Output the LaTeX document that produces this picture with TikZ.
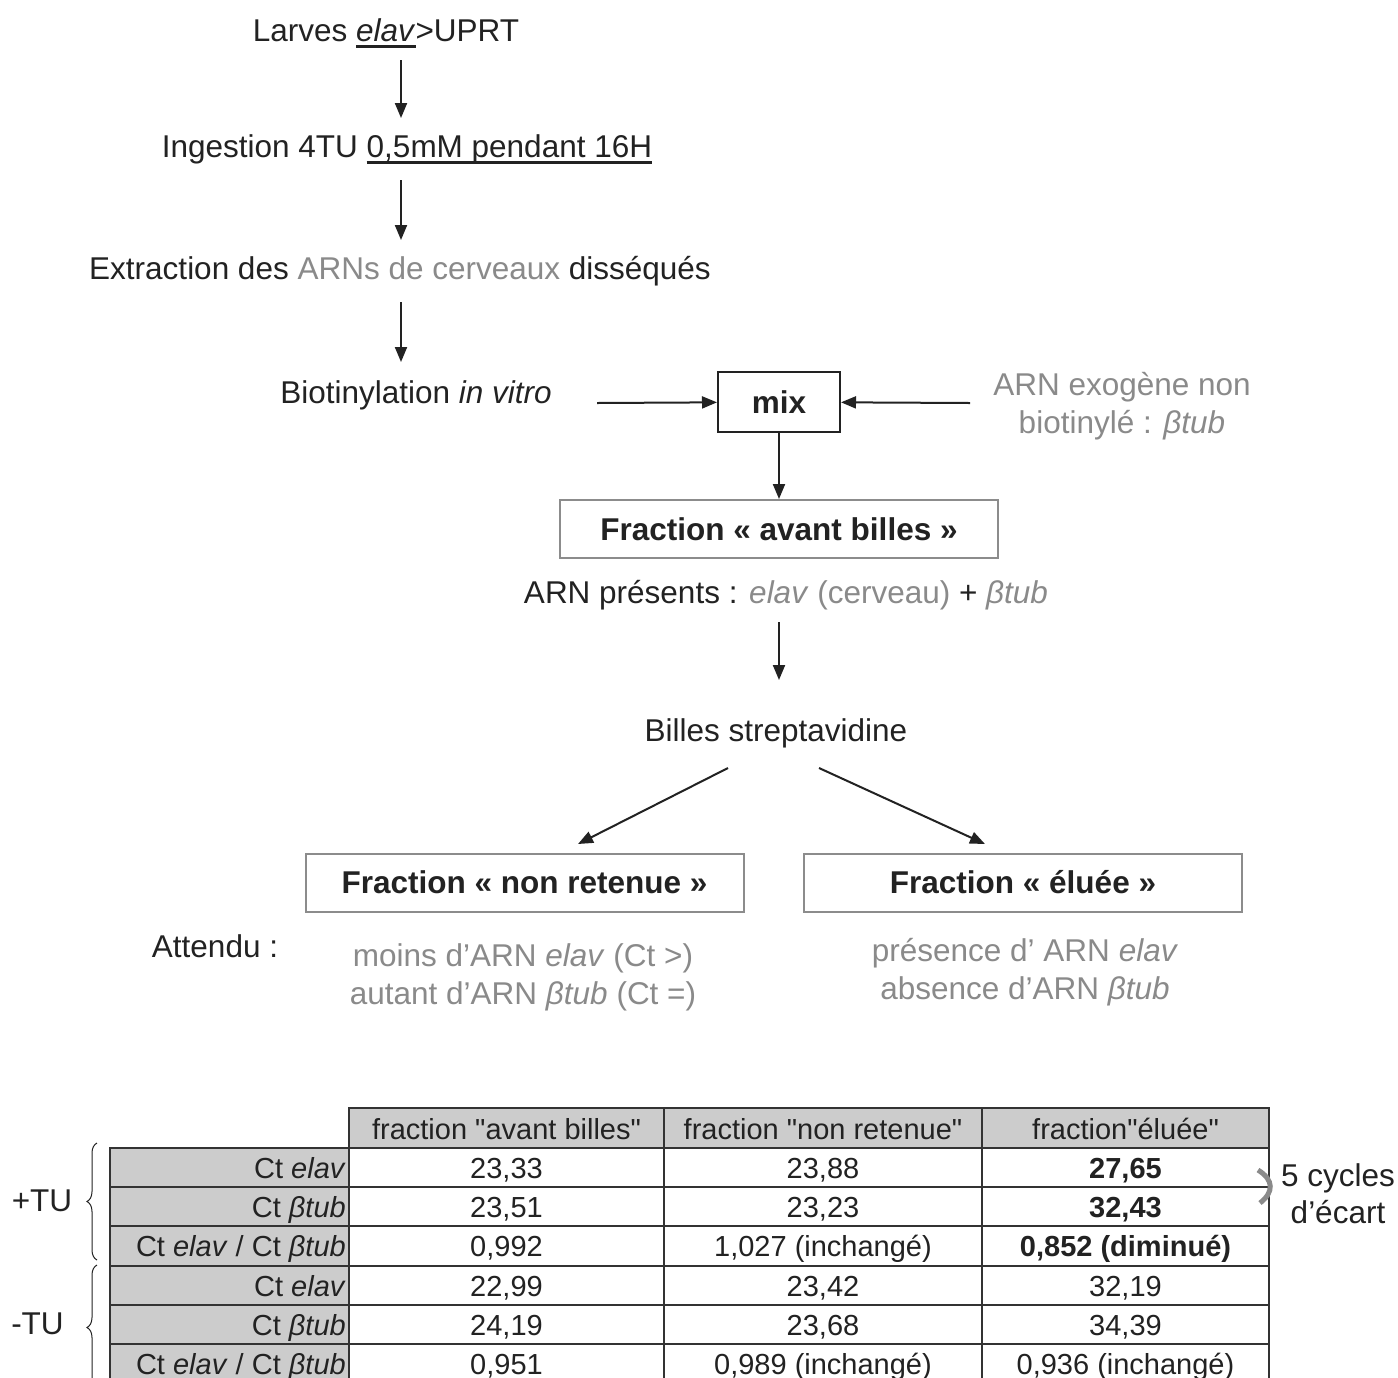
\documentclass[tikz,border=0pt]{standalone}
\usepackage{fontspec}
\setmainfont{Liberation Sans}
\usetikzlibrary{arrows.meta,decorations.pathreplacing}
\definecolor{ink}{HTML}{222222}
\definecolor{grey}{HTML}{8A8A8A}
\definecolor{cellgrey}{HTML}{CCCCCC}
\definecolor{boxline}{HTML}{8C8C8C}
\definecolor{tabline}{HTML}{333333}
\newcommand\myul[1]{\setbox0\hbox{#1}\rlap{\vrule width\wd0 height -3.5pt depth 6.5pt}\box0}
\newcommand\dq{\XeTeXglyph\XeTeXcharglyph"22\relax}
\begin{document}
\begin{tikzpicture}[x=1pt,y=-1pt,
  txt/.style={font=\fontsize{31.5}{38}\selectfont, text=ink, inner sep=0pt, align=center, anchor=base},
  gtxt/.style={txt, text=grey},
  tab/.style={font=\fontsize{29}{34}\selectfont, text=ink, inner sep=0pt, anchor=base},
  arr/.style={draw=ink, line width=2pt, -{Triangle[length=15pt,width=12pt]}},
  fbox/.style={draw=boxline, line width=2pt, minimum width=438pt, minimum height=58pt, inner sep=0pt, font=\fontsize{31.5}{38}\selectfont\bfseries, text=ink},
  thin/.style={draw=tabline, line width=1.2pt},
  thick/.style={draw=tabline, line width=2.6pt},
  brc/.style={draw=ink, line width=1pt, decorate, decoration={brace, amplitude=10pt}},
]
\clip (0,0) rectangle (1398,1377);
\fill[white] (0,0) rectangle (1398,1377);

% flow
\node[txt] (larves) at (386,41) {Larves \myul{\textit{elav}}>UPRT};
\node[txt] (ingest) at (407,157) {Ingestion 4TU \myul{0,5mM pendant 16H}};
\node[txt] (extract) at (400,279) {Extraction des \textcolor{grey}{ARNs de cerveaux} disséqués};
\node[txt] (biot) at (416,403) {Biotinylation \textit{in vitro}};
\node[draw=ink, line width=2pt, minimum width=122pt, minimum height=60pt, inner sep=0pt, font=\fontsize{31.5}{38}\selectfont\bfseries, text=ink] (mix) at (779,402) {mix};
\node[gtxt] (exo) at (1122,433) {ARN exogène non\\biotinylé : \textit{βtub}};
\node[fbox] (avant) at (779,529) {Fraction « avant billes »};
\node[txt] (present) at (786,603) {ARN présents : \textcolor{grey}{\textit{elav} (cerveau)} + \textcolor{grey}{\textit{βtub}}};
\node[txt] (billes) at (776,741) {Billes streptavidine};
\node[fbox] (nonret) at (524.5,882.5) {Fraction « non retenue »};
\node[fbox] (elu) at (1023,882.5) {Fraction « éluée »};
\node[txt] (attendu) at (215,957) {Attendu :};
\node[gtxt] (exp1) at (523,1004) {moins d’ARN \textit{elav} (Ct >)\\autant d’ARN \textit{βtub} (Ct =)};
\node[gtxt] (exp2) at (1025,999) {présence d’ ARN \textit{elav}\\absence d’ARN \textit{βtub}};

\coordinate (a1s) at (401,60);  \coordinate (a1e) at (401,118);
\coordinate (a2s) at (401,180); \coordinate (a2e) at (401,240);
\coordinate (a3s) at (401,302); \coordinate (a3e) at (401,362);
\coordinate (bs) at (597,403);
\coordinate (es) at (970,403);
\coordinate (a4s) at (779,622); \coordinate (a4e) at (779,680);
\coordinate (d1s) at (728,768); \coordinate (d1e) at (578,844);
\coordinate (d2s) at (819,768); \coordinate (d2e) at (985,844);

\draw[arr] (a1s) -- (a1e);
\draw[arr] (a2s) -- (a2e);
\draw[arr] (a3s) -- (a3e);
\draw[arr] (bs) -- (mix);
\draw[arr] (es) -- (mix);
\draw[arr] (mix) -- (avant);
\draw[arr] (a4s) -- (a4e);
\draw[arr] (d1s) -- (d1e);
\draw[arr] (d2s) -- (d2e);

% table
\fill[cellgrey] (349,1108) rectangle (1269,1148);
\fill[cellgrey] (110,1148) rectangle (349,1400);
\foreach \y in {1187,1226,1305,1344} \draw[thin] (110,\y) -- (1269,\y);
\foreach \x in {664,982} \draw[thin] (\x,1108) -- (\x,1400);
\draw[thick] (349,1400) -- (349,1108) -- (1269,1108) -- (1269,1400);
\draw[thick] (110,1400) -- (110,1148) -- (1269,1148);
\draw[thick] (110,1266) -- (1269,1266);

\node[tab] (h1) at (506.5,1139) {fraction \dq avant billes\dq};
\node[tab] (h2) at (823,1139) {fraction \dq non retenue\dq};
\node[tab] (h3) at (1125.5,1139) {fraction\dq éluée\dq};

\node[tab, anchor=base east] (r1) at (346,1178) {Ct \textit{elav}};
\node[tab, anchor=base east] (r2) at (346,1217) {Ct \textit{βtub}};
\node[tab, anchor=base east] (r3) at (346,1256) {Ct \textit{elav} / Ct \textit{βtub}};
\node[tab, anchor=base east] (r4) at (346,1296) {Ct \textit{elav}};
\node[tab, anchor=base east] (r5) at (346,1335) {Ct \textit{βtub}};
\node[tab, anchor=base east] (r6) at (346,1374) {Ct \textit{elav} / Ct \textit{βtub}};

\node[tab] (c11) at (506.5,1178) {23,33};
\node[tab] (c12) at (823,1178) {23,88};
\node[tab] (c13) at (1125.5,1178) {\bfseries 27,65};
\node[tab] (c21) at (506.5,1217) {23,51};
\node[tab] (c22) at (823,1217) {23,23};
\node[tab] (c23) at (1125.5,1217) {\bfseries 32,43};
\node[tab] (c31) at (506.5,1256) {0,992};
\node[tab] (c32) at (823,1256) {1,027 (inchangé)};
\node[tab] (c33) at (1125.5,1256) {\bfseries 0,852 (diminué)};
\node[tab] (c41) at (506.5,1296) {22,99};
\node[tab] (c42) at (823,1296) {23,42};
\node[tab] (c43) at (1125.5,1296) {32,19};
\node[tab] (c51) at (506.5,1335) {24,19};
\node[tab] (c52) at (823,1335) {23,68};
\node[tab] (c53) at (1125.5,1335) {34,39};
\node[tab] (c61) at (506.5,1374) {0,951};
\node[tab] (c62) at (823,1374) {0,989 (inchangé)};
\node[tab] (c63) at (1125.5,1374) {0,936 (inchangé)};

\node[tab, font=\fontsize{31.5}{38}\selectfont] (ptu) at (42,1211) {+TU};
\node[tab, font=\fontsize{31.5}{38}\selectfont] (mtu) at (37.5,1334) {-TU};
\draw[brc] (97,1260) -- (97,1143);
\draw[brc] (97,1390) -- (97,1265);

\draw[grey, line width=5pt] (1258,1170) .. controls (1274,1180) and (1274,1192) .. (1260,1203);
\node[tab, font=\fontsize{31.5}{38}\selectfont, anchor=base west] (cyc) at (1281,1186) {5 cycles};
\node[tab, font=\fontsize{31.5}{38}\selectfont] (ecart) at (1338,1223) {d’écart};
\end{tikzpicture}
\end{document}
